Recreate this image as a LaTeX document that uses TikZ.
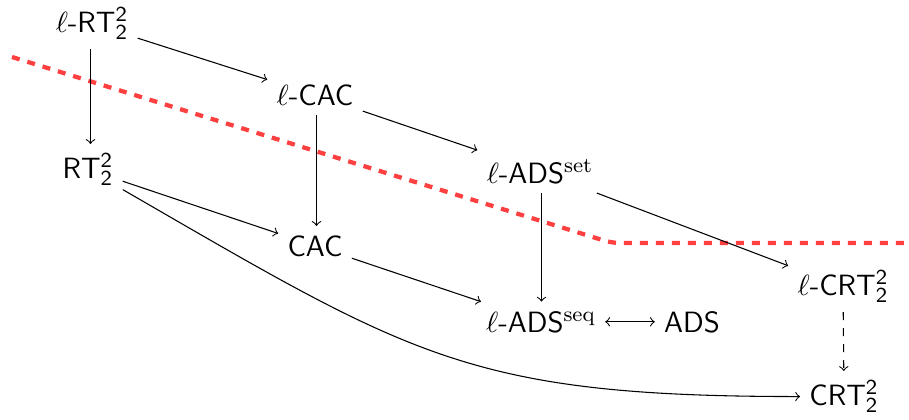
\documentclass[tikz,border=0pt]{standalone}
\begin{document}
\begin{tikzpicture}[x=0.375pt,y=-0.375pt,
  lbl/.style={anchor=base,font=\fontsize{11}{13}\selectfont\sffamily},
  arr/.style={->,line width=0.4pt},
  sep/.style={red!75,line width=1.6pt,dashed,rounded corners=3pt}]
\useasboundingbox (0,0) rectangle (909,419);
\draw[sep] (12,57) -- (612,243) -- (909,243);
\node[lbl] (lrt) at (92,32) {$\ell$-RT$^{\mathsf{2}}_{\mathsf{2}}$};
\node[lbl] (lcac) at (315,105) {$\ell$-CAC};
\node[lbl] (rt) at (88,178) {RT$^{\mathsf{2}}_{\mathsf{2}}$};
\node[lbl] (ladsset) at (540,183) {$\ell$-ADS$^{\mathrm{set}}$};
\node[lbl] (cac) at (315,256) {CAC};
\node[lbl] (ladsseq) at (541,332) {$\ell$-ADS$^{\mathrm{seq}}$};
\node[lbl] (ads) at (692,332) {ADS};
\node[lbl] (lcrt) at (843,295) {$\ell$-CRT$^{\mathsf{2}}_{\mathsf{2}}$};
\node[lbl] (crt) at (844,405) {CRT$^{\mathsf{2}}_{\mathsf{2}}$};
\draw[arr] (lrt) -- (lcac);
\draw[arr] (lrt.south -| 90.5,0) -- (rt.north -| 90.5,0);
\draw[arr] (lcac) -- (ladsset);
\draw[arr] (lcac.south -| 316.5,0) -- (cac.north -| 316.5,0);
\draw[arr] (rt) -- (cac);
\draw[arr] (rt) to[out=-30,in=180,looseness=1.2] (crt);
\draw[arr] (ladsset.south -| 541.5,0) -- (ladsseq.north -| 541.5,0);
\draw[arr] (ladsset) -- (lcrt);
\draw[arr] (cac) -- (ladsseq);
\draw[<->,line width=0.4pt] (ladsseq) -- (ads);
\draw[arr,dashed] (lcrt) -- (crt);
\end{tikzpicture}
\end{document}
